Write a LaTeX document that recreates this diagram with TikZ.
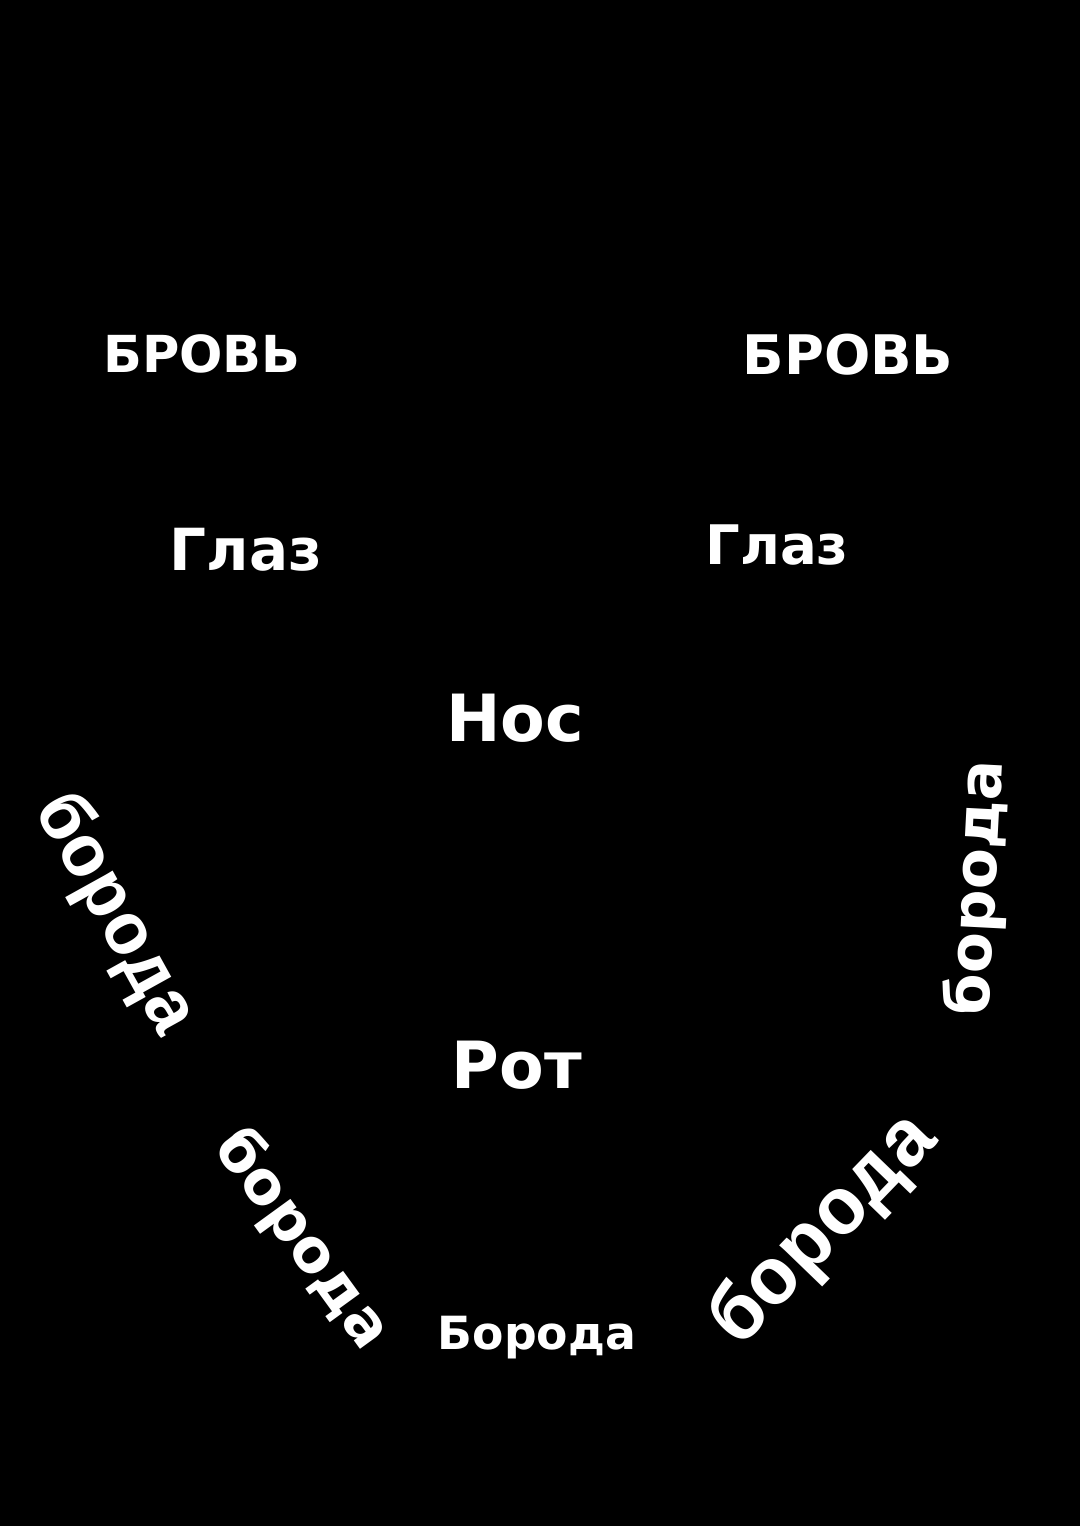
\documentclass[tikz,border=0pt]{standalone}
\usepackage{fontspec}
\setmainfont{DejaVu Sans}
\newfontfamily\beardfont{Liberation Mono}
\tikzset{lbl/.style={text=white, inner sep=0pt}}
\begin{document}
\begin{tikzpicture}[x=0.01cm, y=-0.01cm]
    \fill[black] (0, 0) rectangle (1080, 1526);
    \useasboundingbox (0, 0) rectangle (1080, 1526);
    \node[lbl] (b1) at (202, 354) {\fontsize{14.5}{17}\selectfont\bfseries БРОВЬ};
    \node[lbl] (b2) at (848, 355) {\fontsize{15.5}{18}\selectfont\bfseries БРОВЬ};
    \node[lbl] (g1) at (246, 550) {\fontsize{16.5}{18}\selectfont\bfseries Глаз};
    \node[lbl] (g2) at (777, 545) {\fontsize{15.5}{18}\selectfont\bfseries Глаз};
    \node[lbl] (n) at (515, 718) {\fontsize{18.5}{22}\selectfont\bfseries Нос};
    \node[lbl] (r) at (517, 1065) {\fontsize{18.5}{22}\selectfont\bfseries Рот};
    \node[lbl, rotate=-61] (d1) at (115, 915) {\beardfont\fontsize{21}{24}\selectfont\bfseries борода};
    \node[lbl, rotate=87] (d2) at (978, 888) {\fontsize{17}{20}\selectfont\bfseries борода};
    \node[lbl, rotate=-54] (d3) at (302, 1240) {\fontsize{17}{20}\selectfont\bfseries борода};
    \node[lbl] (d4) at (537, 1338) {\fontsize{13}{16}\selectfont\bfseries Борода};
    \node[lbl, rotate=46] (d5) at (825, 1230) {\beardfont\fontsize{23}{26}\selectfont\bfseries борода};
\end{tikzpicture}
\end{document}
